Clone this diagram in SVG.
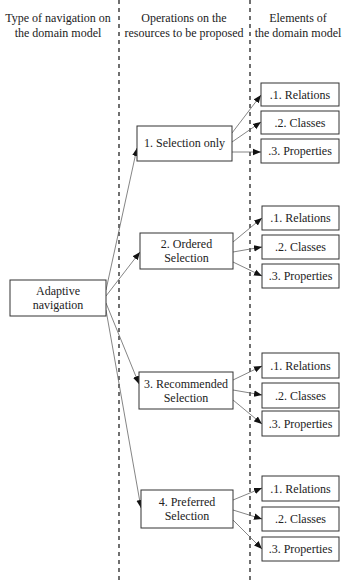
<svg xmlns="http://www.w3.org/2000/svg" width="344" height="580" viewBox="0 0 344 580">
<style>
text{font-family:"Liberation Serif","Times New Roman",serif;font-size:12px;fill:#222;text-anchor:middle}
.box{fill:#fff;stroke:#333;stroke-width:1}
.sep{stroke:#111;stroke-width:1.2;stroke-dasharray:4 4}
.c{stroke:#666;stroke-width:0.8;fill:none;marker-end:url(#ah)}
</style>
<defs>
<marker id="ah" viewBox="0 0 10 10" refX="10" refY="5" markerWidth="8" markerHeight="8" markerUnits="userSpaceOnUse" orient="auto">
<path d="M0,1 L10,5 L0,9 z" fill="#111"/>
</marker>
</defs>
<g id="separators">
<line class="sep" x1="119" y1="0" x2="119" y2="580"/>
<line class="sep" x1="250" y1="0" x2="250" y2="580"/>
</g>
<g id="headers">
<text x="58" y="22">Type of navigation on</text>
<text x="58" y="37">the domain model</text>
<text x="184" y="22">Operations on the</text>
<text x="184" y="37">resources to be proposed</text>
<text x="298" y="22">Elements of</text>
<text x="298" y="37">the domain model</text>
</g>
<g id="connectors">
<line class="c" x1="106" y1="290" x2="137" y2="148"/>
<line class="c" x1="106" y1="296" x2="140" y2="252"/>
<line class="c" x1="106" y1="303" x2="139" y2="384"/>
<line class="c" x1="106" y1="310" x2="141" y2="508"/>
<line class="c" x1="232" y1="133" x2="261" y2="95"/>
<line class="c" x1="232" y1="142" x2="261" y2="122"/>
<line class="c" x1="232" y1="152" x2="261" y2="152"/>
<line class="c" x1="233" y1="242" x2="262" y2="218"/>
<line class="c" x1="233" y1="252" x2="262" y2="247"/>
<line class="c" x1="233" y1="262" x2="262" y2="276"/>
<line class="c" x1="233" y1="380" x2="262" y2="366"/>
<line class="c" x1="233" y1="390" x2="262" y2="395"/>
<line class="c" x1="233" y1="400" x2="262" y2="424"/>
<line class="c" x1="233" y1="500" x2="262" y2="488"/>
<line class="c" x1="233" y1="510" x2="262" y2="519"/>
<line class="c" x1="233" y1="520" x2="262" y2="549"/>
</g>
<g id="adaptive">
<rect class="box" x="10" y="280" width="96" height="36"/>
<text x="58" y="295">Adaptive</text>
<text x="58" y="309">navigation</text>
</g>
<g id="op1">
<rect class="box" x="137" y="126" width="95" height="35"/>
<text x="184.5" y="147">1. Selection only</text>
</g>
<g id="op2">
<rect class="box" x="140" y="233" width="93" height="36"/>
<text x="186.5" y="248">2. Ordered</text>
<text x="186.5" y="262">Selection</text>
</g>
<g id="op3">
<rect class="box" x="139" y="372" width="94" height="37"/>
<text x="186" y="388">3. Recommended</text>
<text x="186" y="402">Selection</text>
</g>
<g id="op4">
<rect class="box" x="141" y="490" width="92" height="38"/>
<text x="187" y="506">4. Preferred</text>
<text x="187" y="520">Selection</text>
</g>
<g id="e1r"><rect class="box" x="261" y="83" width="78" height="23"/><text x="300" y="99">.1. Relations</text></g>
<g id="e1c"><rect class="box" x="261" y="111" width="78" height="23"/><text x="300" y="127">.2. Classes</text></g>
<g id="e1p"><rect class="box" x="261" y="139" width="78" height="24"/><text x="300" y="155">.3. Properties</text></g>
<g id="e2r"><rect class="box" x="262" y="206" width="77" height="24"/><text x="300.5" y="222">.1. Relations</text></g>
<g id="e2c"><rect class="box" x="262" y="235" width="77" height="24"/><text x="300.5" y="251">.2. Classes</text></g>
<g id="e2p"><rect class="box" x="262" y="264" width="77" height="24"/><text x="300.5" y="280">.3. Properties</text></g>
<g id="e3r"><rect class="box" x="262" y="353" width="77" height="25"/><text x="300.5" y="370">.1. Relations</text></g>
<g id="e3c"><rect class="box" x="262" y="383" width="77" height="25"/><text x="300.5" y="400">.2. Classes</text></g>
<g id="e3p"><rect class="box" x="262" y="411" width="77" height="25"/><text x="300.5" y="428">.3. Properties</text></g>
<g id="e4r"><rect class="box" x="262" y="476" width="77" height="25"/><text x="300.5" y="493">.1. Relations</text></g>
<g id="e4c"><rect class="box" x="262" y="507" width="77" height="24"/><text x="300.5" y="523">.2. Classes</text></g>
<g id="e4p"><rect class="box" x="262" y="537" width="77" height="24"/><text x="300.5" y="553">.3. Properties</text></g>
</svg>
